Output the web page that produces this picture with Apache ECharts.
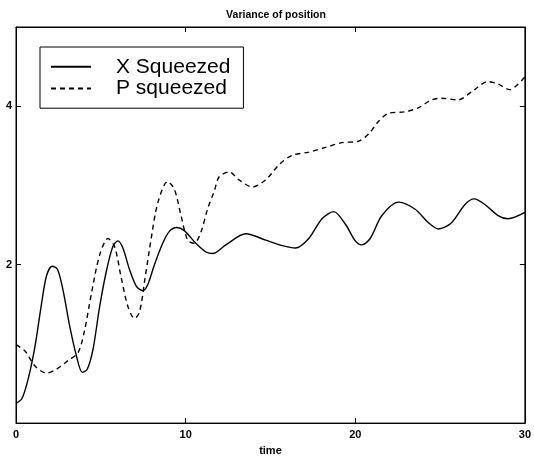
<!DOCTYPE html>
<html>
<head>
<meta charset="utf-8">
<script src="https://cdn.jsdelivr.net/npm/echarts@6/dist/echarts.min.js"></script>
<style>
  html, body { margin: 0; padding: 0; background: #fff; }
  #chart { width: 534px; height: 461px; }
</style>
</head>
<body>
<div id="chart"></div>
<script>
// Variance of position vs. time for the two squeezed initial states
var xSqueezedTime = [0, 0.35, 0.72, 1.12, 1.5, 1.8, 2.13, 2.45, 2.78, 3.17, 3.56, 3.91, 4.2, 4.54, 4.93,
  5.33, 5.71, 6.01, 6.3, 6.69, 7.09, 7.47, 7.77, 8.16, 8.65, 9.04, 9.47, 9.92, 10.6, 11.2,
  11.6, 12.37, 13.55, 14.72, 15.7, 16.48, 17.26, 18.04, 18.73, 19.42, 20.0, 20.39, 20.88, 21.57, 22.55,
  23.53, 24.31, 24.9, 25.68, 26.47, 27.01, 27.64, 28.42, 29.0, 30];
var xSqueezedVar = [0.25, 0.31, 0.56, 0.97, 1.5, 1.86, 1.98, 1.94, 1.67, 1.22, 0.85, 0.64, 0.68, 0.93, 1.47,
  1.92, 2.23, 2.30, 2.21, 1.94, 1.73, 1.67, 1.75, 2.0, 2.27, 2.42, 2.47, 2.43, 2.27, 2.16,
  2.14, 2.25, 2.39, 2.31, 2.24, 2.21, 2.33, 2.58, 2.67, 2.51, 2.30, 2.25, 2.33, 2.62, 2.79,
  2.70, 2.53, 2.45, 2.53, 2.76, 2.83, 2.76, 2.62, 2.58, 2.66];

var pSqueezedTime = [0, 0.53, 1.12, 1.8, 2.39, 3.07, 3.66, 4.05, 4.44, 4.93, 5.42, 5.81, 6.2, 6.6, 6.99,
  7.28, 7.58, 7.97, 8.36, 8.94, 9.34, 9.73, 10.12, 10.51, 10.9, 11.29, 11.69, 11.98, 12.57, 13.15,
  13.94, 14.72, 15.5, 16.28, 17.26, 18.24, 19.22, 20.2, 20.79, 21.38, 21.96, 22.94, 23.72, 24.5, 25.09,
  26.07, 26.85, 27.83, 28.42, 29.1, 30];
var pSqueezedVar = [0.99, 0.91, 0.72, 0.63, 0.68, 0.79, 0.89, 1.18, 1.63, 2.12, 2.33, 2.23, 1.84, 1.47, 1.32,
  1.40, 1.79, 2.33, 2.78, 3.05, 2.95, 2.62, 2.31, 2.27, 2.41, 2.70, 2.93, 3.11, 3.17, 3.07,
  2.98, 3.07, 3.26, 3.38, 3.42, 3.48, 3.54, 3.56, 3.65, 3.81, 3.91, 3.93, 3.98, 4.08, 4.10,
  4.08, 4.18, 4.31, 4.28, 4.21, 4.37];

var seriesNames = ['X Squeezed', 'P squeezed'];
var xTicks = { min: 0, max: 30, step: 10 };
var yTicks = { min: 0, max: 5, step: 2 };

function pairs(t, v) {
  return t.map(function (x, i) { return [x, v[i]]; });
}

var FONT = "'Liberation Sans', Arial, Helvetica, sans-serif";
function labelStyle(extra) {
  return Object.assign({ color: '#000', fontFamily: FONT, fontWeight: 'bold', fontSize: 11 }, extra || {});
}
function tickStyle() {
  return { show: true, inside: true, length: 5, lineStyle: { color: '#000', width: 1 } };
}
function frameLine() {
  return { show: true, onZero: false, lineStyle: { color: '#000', width: 1 } };
}

var chart = echarts.init(document.getElementById('chart'), null, { renderer: 'canvas' });
chart.setOption({
  animation: false,
  backgroundColor: '#fff',
  title: {
    text: 'Variance of position',
    left: 271, top: 5, textAlign: 'center',
    textStyle: { color: '#000', fontFamily: FONT, fontWeight: 'bold', fontSize: 10.5 }
  },
  legend: {
    orient: 'vertical',
    left: 40, top: 47,
    padding: [9, 13, 9, 10],
    itemGap: 0,
    itemWidth: 40, itemHeight: 14,
    borderColor: '#000', borderWidth: 1,
    backgroundColor: '#fff',
    data: seriesNames,
    itemStyle: { opacity: 0 },
    textStyle: { color: '#000', fontFamily: FONT, fontSize: 21, lineHeight: 21.6, padding: [0, 0, 0, 20] }
  },
  grid: { left: 16, right: 7, top: 27, bottom: 29, show: true, borderColor: '#000', borderWidth: 1, backgroundColor: '#fff' },
  xAxis: [{
    type: 'value', position: 'bottom',
    min: xTicks.min, max: xTicks.max, interval: xTicks.step,
    name: 'time', nameLocation: 'middle', nameGap: 17,
    nameTextStyle: labelStyle(),
    axisLine: frameLine(),
    axisTick: tickStyle(),
    axisLabel: labelStyle({ margin: 6 }),
    splitLine: { show: false }
  }, {
    type: 'value', position: 'top',
    min: xTicks.min, max: xTicks.max, interval: xTicks.step,
    axisLine: frameLine(),
    axisTick: tickStyle(),
    axisLabel: { show: false },
    splitLine: { show: false }
  }],
  yAxis: [{
    type: 'value', position: 'left',
    min: yTicks.min, max: yTicks.max, interval: yTicks.step,
    axisLine: frameLine(),
    axisTick: tickStyle(),
    axisLabel: labelStyle({ margin: 4, showMinLabel: false, showMaxLabel: false }),
    splitLine: { show: false }
  }, {
    type: 'value', position: 'right',
    min: yTicks.min, max: yTicks.max, interval: yTicks.step,
    axisLine: frameLine(),
    axisTick: tickStyle(),
    axisLabel: { show: false },
    splitLine: { show: false }
  }],
  series: [{
    name: seriesNames[0],
    type: 'line',
    xAxisIndex: 0, yAxisIndex: 0,
    data: pairs(xSqueezedTime, xSqueezedVar),
    smooth: 0.3,
    symbol: 'none',
    lineStyle: { color: '#000', width: 1.4, type: 'solid' },
    itemStyle: { color: '#000' }
  }, {
    name: seriesNames[1],
    type: 'line',
    xAxisIndex: 0, yAxisIndex: 0,
    data: pairs(pSqueezedTime, pSqueezedVar),
    smooth: 0.3,
    symbol: 'none',
    lineStyle: { color: '#000', width: 1.4, type: [5, 4] },
    itemStyle: { color: '#000' }
  }]
});
</script>
</body>
</html>
